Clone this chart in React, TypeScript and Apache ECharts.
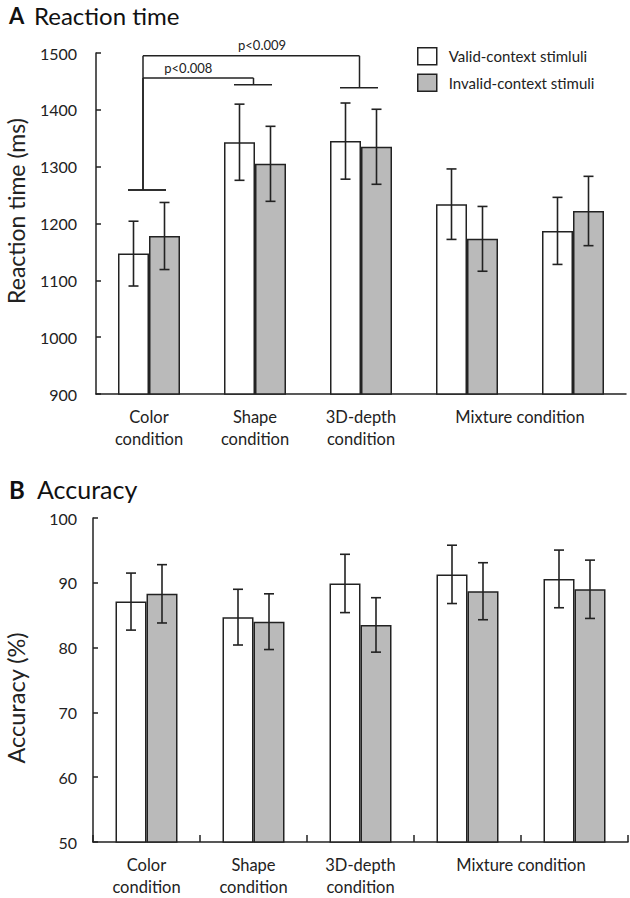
import React, { useEffect, useRef } from 'react';
import * as echarts from 'echarts';

const categories = ['Color condition', 'Shape condition', '3D-depth condition', 'Mixture condition', 'Mixture condition'];
const seriesNames = ['Valid-context stimluli', 'Invalid-context stimuli'];

const rtValid = [1147, 1343, 1345, 1234, 1187];
const rtValidErr = [57, 67, 67, 62, 59];
const rtInvalid = [1178, 1305, 1335, 1173, 1222];
const rtInvalidErr = [59, 66, 66, 57, 61];

const accValid = [87.1, 84.7, 89.9, 91.3, 90.6];
const accValidErr = [4.4, 4.3, 4.5, 4.5, 4.45];
const accInvalid = [88.3, 84.0, 83.5, 88.7, 89.0];
const accInvalidErr = [4.5, 4.3, 4.2, 4.4, 4.5];

const rtAxis = { min: 900, max: 1500, interval: 100 };
const accAxis = { min: 50, max: 100, interval: 10 };

// significance brackets: [fromCategory, topLevel, toCategory, fromLegBottom, toLegBottom]
const bracketLabels = ['p<0.009', 'p<0.008'];
const bracketData = [
  [0, 1495, 2, 1259, 1439],
  [0, 1456, 1, 1259, 1444],
];

const FONT = 'Lato, "Open Sans", sans-serif';
const INK = '#222';
const GREY = '#bababa';

function errorSeries(xi: number, values: number[], errs: number[], offset: number) {
  return {
    type: 'custom',
    xAxisIndex: xi,
    yAxisIndex: xi,
    silent: true,
    z: 10,
    clip: false,
    data: values.map((v, i) => [i, v - errs[i], v + errs[i]]),
    encode: { x: 0, y: [1, 2] },
    renderItem: (_p: any, api: any) => {
      const i = api.value(0);
      const lo = api.coord([i, api.value(1)]);
      const hi = api.coord([i, api.value(2)]);
      const x = lo[0] + offset;
      const cap = 5;
      const style = { stroke: INK, lineWidth: 1.6, fill: null };
      return {
        type: 'group',
        children: [
          { type: 'line', shape: { x1: x, y1: lo[1], x2: x, y2: hi[1] }, style },
          { type: 'line', shape: { x1: x - cap, y1: lo[1], x2: x + cap, y2: lo[1] }, style },
          { type: 'line', shape: { x1: x - cap, y1: hi[1], x2: x + cap, y2: hi[1] }, style },
        ],
      };
    },
  };
}

function mixtureLabel(xi: number, base: number) {
  return {
    type: 'custom',
    xAxisIndex: xi,
    yAxisIndex: xi,
    silent: true,
    clip: false,
    data: [[3, base]],
    encode: { x: 0, y: 1 },
    renderItem: (_p: any, api: any) => {
      const a = api.coord([3, base]);
      const b = api.coord([4, base]);
      return {
        type: 'text',
        x: (a[0] + b[0]) / 2,
        y: a[1] + 12,
        style: {
          text: categories[3],
          fill: INK,
          fontSize: 16.5,
          fontFamily: FONT,
          align: 'center',
          verticalAlign: 'top',
          lineHeight: 22,
        },
      };
    },
  };
}

function barSeries(xi: number, name: string, data: number[], color: string) {
  return {
    type: 'bar',
    name,
    xAxisIndex: xi,
    yAxisIndex: xi,
    data,
    barWidth: 31,
    barGap: '0%',
    itemStyle: { color, borderColor: INK, borderWidth: 1.5 },
  };
}

export default function App() {
  const ref = useRef<HTMLDivElement>(null);

  useEffect(() => {
    document.body.style.margin = '0';
    const chart = echarts.init(ref.current!, null, { renderer: 'svg' });

    const xAxisBase = (gridIndex: number, ticks: boolean) => ({
      type: 'category',
      gridIndex,
      data: categories,
      axisLine: { lineStyle: { color: INK, width: 1.5 } },
      axisTick: { show: ticks, inside: true, length: 7, lineStyle: { color: INK, width: 1.5 } },
      axisLabel: {
        interval: 0,
        color: INK,
        fontSize: 16.5,
        lineHeight: 22,
        fontFamily: FONT,
        margin: 12,
        formatter: (v: string, i: number) => (i >= 3 ? '' : v.replace(' ', '\n')),
      },
    });

    const yAxisBase = (gridIndex: number, ax: any, margin: number) => ({
      type: 'value',
      gridIndex,
      min: ax.min,
      max: ax.max,
      interval: ax.interval,
      axisLine: { show: true, lineStyle: { color: INK, width: 1.5 } },
      axisTick: { show: true, inside: true, length: 5, lineStyle: { color: INK, width: 1.5 } },
      splitLine: { show: false },
      axisLabel: { color: INK, fontSize: 16, fontFamily: FONT, margin, formatter: (v: number) => String(v) },
    });

    const bracketLabelPos = [0.55, 0.41];

    const option: any = {
      animation: false,
      backgroundColor: '#fff',
      textStyle: { fontFamily: FONT },
      legend: {
        data: seriesNames,
        orient: 'vertical',
        left: 417,
        top: 47,
        itemWidth: 19,
        itemHeight: 17,
        itemGap: 8,
        padding: 0,
        selectedMode: false,
        icon: 'rect',
        itemStyle: { borderColor: INK, borderWidth: 1.5 },
        textStyle: { color: INK, fontSize: 15, fontFamily: FONT, padding: [0, 0, 0, 7] },
      },
      grid: [
        { left: 96, top: 53, width: 530, height: 341 },
        { left: 93, top: 518, width: 535, height: 328 },
      ],
      xAxis: [xAxisBase(0, false), xAxisBase(1, true)],
      yAxis: [yAxisBase(0, rtAxis, 19), yAxisBase(1, accAxis, 16)],
      graphic: [
        { type: 'text', left: 9, top: 4, style: { text: 'A', fontSize: 22, fontWeight: 'bold', fontFamily: FONT, fill: '#111' } },
        { type: 'text', left: 34, top: 3, style: { text: 'Reaction time', fontSize: 24, fontFamily: FONT, fill: '#111' } },
        { type: 'text', left: 9, top: 477, style: { text: 'B', fontSize: 24, fontWeight: 'bold', fontFamily: FONT, fill: '#111' } },
        { type: 'text', left: 37, top: 476, style: { text: 'Accuracy', fontSize: 25, fontFamily: FONT, fill: '#111' } },
        {
          type: 'text', x: 16, y: 211, rotation: Math.PI / 2,
          style: { text: 'Reaction time (ms)', fontSize: 23, fontFamily: FONT, fill: INK, align: 'center', verticalAlign: 'middle' },
        },
        {
          type: 'text', x: 16, y: 698, rotation: Math.PI / 2,
          style: { text: 'Accuracy (%)', fontSize: 23.5, fontFamily: FONT, fill: INK, align: 'center', verticalAlign: 'middle' },
        },
      ],
      series: [
        barSeries(0, seriesNames[0], rtValid, '#ffffff'),
        barSeries(0, seriesNames[1], rtInvalid, GREY),
        errorSeries(0, rtValid, rtValidErr, -15.5),
        errorSeries(0, rtInvalid, rtInvalidErr, 15.5),
        barSeries(1, seriesNames[0], accValid, '#ffffff'),
        barSeries(1, seriesNames[1], accInvalid, GREY),
        errorSeries(1, accValid, accValidErr, -15.5),
        errorSeries(1, accInvalid, accInvalidErr, 15.5),
        mixtureLabel(0, rtAxis.min),
        mixtureLabel(1, accAxis.min),
        {
          type: 'custom',
          xAxisIndex: 0,
          yAxisIndex: 0,
          silent: true,
          clip: false,
          z: 12,
          data: bracketData,
          encode: { x: [0, 2], y: [1, 3, 4] },
          renderItem: (p: any, api: any) => {
            const f = api.value(0);
            const t = api.value(2);
            const top = api.value(1);
            const L = api.coord([f, top]);
            const R = api.coord([t, top]);
            const Lb = api.coord([f, api.value(3)]);
            const Rb = api.coord([t, api.value(4)]);
            const lx = L[0] - 6;
            const rx = R[0] - 1.5;
            const style = { stroke: INK, lineWidth: 1.5, fill: null };
            const frac = bracketLabelPos[p.dataIndex];
            return {
              type: 'group',
              children: [
                { type: 'line', shape: { x1: lx, y1: L[1], x2: rx, y2: L[1] }, style },
                { type: 'line', shape: { x1: lx, y1: L[1], x2: lx, y2: Lb[1] }, style },
                { type: 'line', shape: { x1: rx, y1: R[1], x2: rx, y2: Rb[1] }, style },
                { type: 'line', shape: { x1: L[0] - 21, y1: Lb[1], x2: L[0] + 17, y2: Lb[1] }, style },
                { type: 'line', shape: { x1: R[0] - 21, y1: Rb[1], x2: R[0] + 17, y2: Rb[1] }, style },
                {
                  type: 'text',
                  x: lx + (rx - lx) * frac,
                  y: L[1] - 4,
                  style: {
                    text: bracketLabels[p.dataIndex],
                    fill: INK,
                    fontSize: 13,
                    fontFamily: FONT,
                    align: 'center',
                    verticalAlign: 'bottom',
                  },
                },
              ],
            };
          },
        },
      ],
    };

    chart.setOption(option);
    return () => chart.dispose();
  }, []);

  return <div ref={ref} style={{ width: 630, height: 898 }} />;
}
